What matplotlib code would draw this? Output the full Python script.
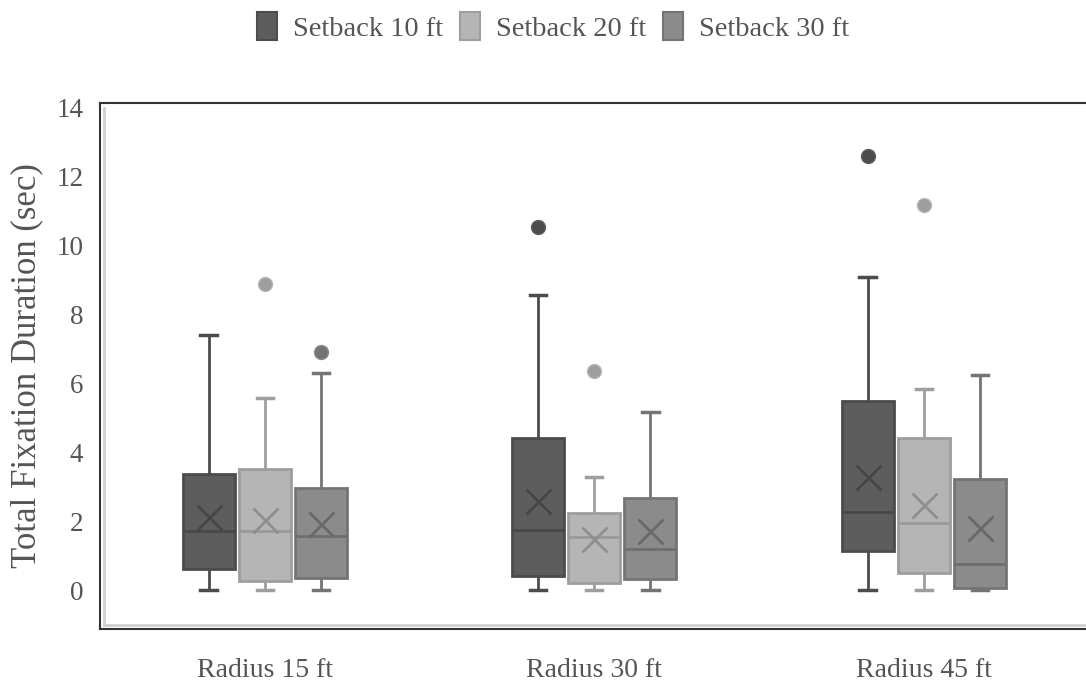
import matplotlib
matplotlib.use("Agg")
import matplotlib.pyplot as plt
from matplotlib.patches import Patch

categories = ["Radius 15 ft", "Radius 30 ft", "Radius 45 ft"]
series = ["Setback 10 ft", "Setback 20 ft", "Setback 30 ft"]

# per series: values for each category
whislo = {"Setback 10 ft": [0, 0, 0], "Setback 20 ft": [0, 0, 0], "Setback 30 ft": [0, 0, 0]}
q1 = {"Setback 10 ft": [0.60, 0.42, 1.14], "Setback 20 ft": [0.27, 0.19, 0.50], "Setback 30 ft": [0.35, 0.31, 0.05]}
med = {"Setback 10 ft": [1.71, 1.74, 2.27], "Setback 20 ft": [1.71, 1.53, 1.93], "Setback 30 ft": [1.57, 1.18, 0.75]}
q3 = {"Setback 10 ft": [3.37, 4.41, 5.48], "Setback 20 ft": [3.50, 2.24, 4.40], "Setback 30 ft": [2.97, 2.68, 3.22]}
whishi = {"Setback 10 ft": [7.40, 8.54, 9.08], "Setback 20 ft": [5.57, 3.29, 5.83], "Setback 30 ft": [6.28, 5.16, 6.23]}
means = {"Setback 10 ft": [2.12, 2.58, 3.28], "Setback 20 ft": [2.03, 1.47, 2.46], "Setback 30 ft": [1.91, 1.71, 1.81]}
fliers = {"Setback 10 ft": [[], [10.51], [12.59]], "Setback 20 ft": [[8.87], [6.36], [11.16]], "Setback 30 ft": [[6.91], [], []]}

yticks = [0, 2, 4, 6, 8, 10, 12, 14]
ylabel = "Total Fixation Duration (sec)"

fills = ["#5d5d5d", "#b5b5b5", "#8b8b8b"]
edges = ["#4c4c4c", "#9e9e9e", "#747474"]
meds = ["#484848", "#999999", "#6e6e6e"]
xcol = ["#464646", "#8e8e8e", "#686868"]
txtc = "#555555"

serif = ["Liberation Serif", "DejaVu Serif"]
plt.rcParams["font.family"] = serif

fig = plt.figure(figsize=(10.86, 6.88), dpi=100)
ax = fig.add_axes([100 / 1086, 59 / 688, 988.5 / 1086, 526 / 688])

offsets = [-0.17, 0.0, 0.17]
width = 0.158
for si, s in enumerate(series):
    stats = []
    for ci in range(len(categories)):
        stats.append(dict(med=med[s][ci], q1=q1[s][ci], q3=q3[s][ci],
                          whislo=whislo[s][ci], whishi=whishi[s][ci],
                          mean=means[s][ci], fliers=fliers[s][ci]))
    pos = [ci + offsets[si] for ci in range(len(categories))]
    ax.bxp(stats, positions=pos, widths=width, patch_artist=True,
           showmeans=True, capwidths=0.05,
           boxprops=dict(facecolor=fills[si], edgecolor=edges[si], linewidth=2),
           medianprops=dict(color=meds[si], linewidth=2),
           whiskerprops=dict(color=edges[si], linewidth=2),
           capprops=dict(color=edges[si], linewidth=2.5),
           meanprops=dict(marker="x", markersize=18, markeredgecolor=xcol[si],
                          markeredgewidth=2),
           flierprops=dict(marker="o", markersize=10, markerfacecolor=edges[si],
                           markeredgecolor=fills[si], markeredgewidth=1),
           manage_ticks=False)

ax.set_xlim(-0.5, 2.5)
ax.set_ylim(-1.13, 14.116)
ax.set_xticks(range(len(categories)))
ax.set_xticklabels(categories, fontsize=20, color=txtc)
ax.set_yticks(yticks)
ax.set_yticklabels([str(t) for t in yticks], fontsize=19.5, color=txtc)
ax.tick_params(axis="both", length=0)
ax.tick_params(axis="y", pad=12)
ax.tick_params(axis="x", pad=21)
ax.set_ylabel(ylabel, fontsize=25, color=txtc, labelpad=9)

for sp in ax.spines.values():
    sp.set_color("#333333")
    sp.set_linewidth(1.5)
ax.spines["right"].set_visible(False)

# inner light frame lines
ax.plot([0.004, 0.004], [0.007, 0.99], transform=ax.transAxes, color="#d0d0d0", lw=2, clip_on=False)
ax.plot([0.004, 1.0], [0.007, 0.007], transform=ax.transAxes, color="#d0d0d0", lw=2, clip_on=False)

handles = [Patch(facecolor=fills[i], edgecolor=edges[i], linewidth=1.5, label=series[i]) for i in range(3)]
leg = fig.legend(handles=handles, loc="center", bbox_to_anchor=(553 / 1086, 1 - 27 / 688),
                 ncol=3, frameon=False, fontsize=20.5, handlelength=0.7, handleheight=1.15,
                 handletextpad=0.55, columnspacing=0.6, labelcolor=txtc)

fig.savefig("out.png", dpi=100)
